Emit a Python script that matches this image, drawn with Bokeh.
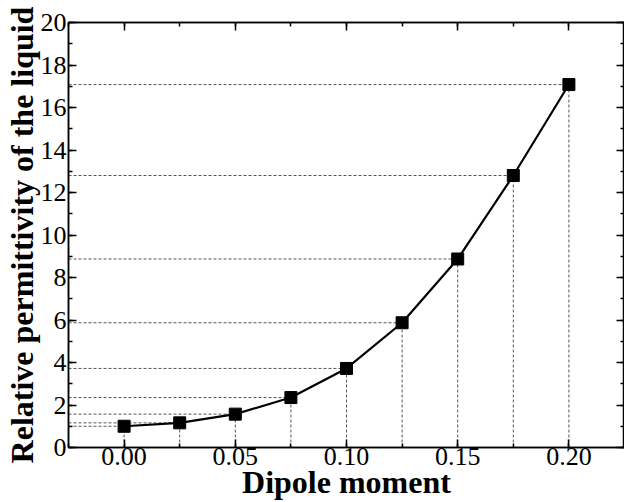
from bokeh.plotting import figure
from bokeh.models import (LinearAxis, SingleIntervalTicker, PrintfTickFormatter, Range1d,
                          ColumnDataSource, CustomJSTickFormatter)
from bokeh.embed import file_html
from bokeh.resources import INLINE

# Data
dipole = [0.000, 0.025, 0.050, 0.075, 0.100, 0.125, 0.150, 0.175, 0.200]
permittivity = [1.00, 1.16, 1.57, 2.35, 3.72, 5.87, 8.87, 12.80, 17.08]
x_label = "Dipole moment"
y_label = "Relative permittivity of the liquid"

X0, X1 = -0.025, 0.225
Y0, Y1 = 0, 20

FONT = "Liberation Serif"

p = figure(width=624, height=502, output_backend="svg", toolbar_location=None,
           x_range=Range1d(X0, X1), y_range=Range1d(Y0, Y1),
           x_axis_location=None, y_axis_location=None,
           min_border_left=0, min_border_right=0, min_border_top=22, min_border_bottom=0)
p.xgrid.visible = False
p.ygrid.visible = False
p.outline_line_color = "black"
p.outline_line_width = 1.5
p.background_fill_color = "white"
p.border_fill_color = "white"

def style_axis(ax, labels=True):
    ax.axis_line_color = "black"
    ax.axis_line_width = 1.5
    ax.major_tick_in = 8
    ax.major_tick_out = 0
    ax.minor_tick_in = 4
    ax.minor_tick_out = 0
    ax.major_tick_line_width = 1.5
    ax.minor_tick_line_width = 1.5
    ax.major_label_text_font = FONT
    ax.major_label_text_color = "black"
    ax.major_label_text_font_size = "26px"
    if labels:
        ax.major_label_standoff = 1
    else:
        ax.formatter = CustomJSTickFormatter(code="return '';")
        ax.major_label_standoff = 0
    ax.axis_label_text_font = FONT
    ax.axis_label_text_font_style = "bold"
    ax.axis_label_text_font_size = "32px"
    ax.axis_label_text_color = "black"

xt = SingleIntervalTicker(interval=0.05, num_minor_ticks=2)
yt = SingleIntervalTicker(interval=2, num_minor_ticks=2)

xb = LinearAxis(ticker=xt, formatter=PrintfTickFormatter(format="%.2f"), axis_label=x_label)
style_axis(xb)
xb.major_label_standoff = 0
xb.axis_label_standoff = -4
p.add_layout(xb, "below")

xa = LinearAxis(ticker=SingleIntervalTicker(interval=0.05, num_minor_ticks=2))
style_axis(xa, labels=False)
p.add_layout(xa, "above")

yl = LinearAxis(ticker=yt, axis_label=y_label)
style_axis(yl)
yl.major_label_standoff = 2
yl.axis_label_standoff = -2
p.add_layout(yl, "left")

yr = LinearAxis(ticker=SingleIntervalTicker(interval=2, num_minor_ticks=2))
style_axis(yr, labels=False)
p.add_layout(yr, "right")

src = ColumnDataSource(dict(x=dipole, y=permittivity,
                            x0=[X0] * len(dipole), y0=[Y0] * len(dipole)))

# guide lines
p.segment(x0="x0", y0="y", x1="x", y1="y", source=src, line_color="#555555",
          line_width=1, line_dash="3 2")
p.segment(x0="x", y0="y0", x1="x", y1="y", source=src, line_color="#555555",
          line_width=1, line_dash="3 2")

p.line("x", "y", source=src, line_color="black", line_width=2.2)
p.scatter("x", "y", source=src, marker="square", size=12, fill_color="black", line_color="black")

open("out.html", "w").write(file_html(p, INLINE))
